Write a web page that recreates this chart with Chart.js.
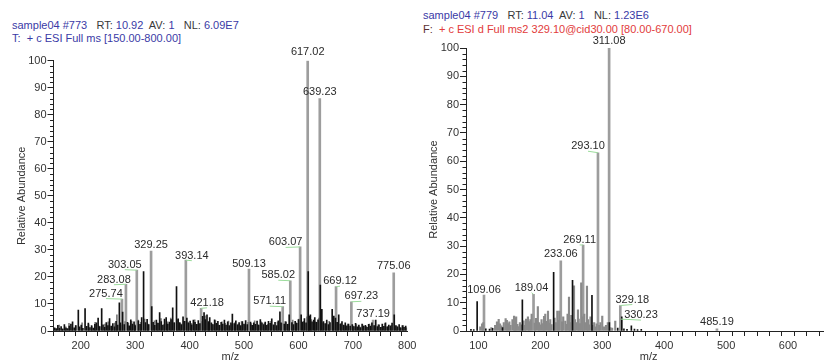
<!DOCTYPE html>
<html>
<head>
<meta charset="utf-8">
<script src="https://cdn.jsdelivr.net/npm/chart.js@4.4.1/dist/chart.umd.min.js"></script>
<style>
  body { margin: 0; width: 824px; height: 364px; overflow: hidden; background: #fff; position: relative;
         font-family: "Liberation Sans", Arial, sans-serif; }
  .hdr { position: absolute; font-size: 11px; white-space: pre; }
  .b { color: #3a3aa6; }
  .k { color: #3a3a3a; }
  .r { color: #e23b3b; }
  canvas { position: absolute; top: 0; }
</style>
</head>
<body>
<div class="hdr" style="left:12px; top:19px; line-height:13.3px"><span class="b">sample04 #773</span>   <span class="k">RT:</span> <span class="b">10.92</span>  <span class="k">AV:</span> <span class="b">1</span>   <span class="k">NL:</span> <span class="b">6.09E7</span>
<span class="b">T:  + c ESI Full ms [150.00-800.00]</span></div>
<div class="hdr" style="left:423px; top:8px; line-height:14.3px"><span class="b">sample04 #779</span>   <span class="k">RT:</span> <span class="b">11.04</span>  <span class="k">AV:</span> <span class="b">1</span>   <span class="k">NL:</span> <span class="b">1.23E6</span>
<span style="color:#5a3030">F:</span> <span class="r"> + c ESI d Full ms2 329.10@cid30.00 [80.00-670.00]</span></div>

<canvas id="fullMs" width="430" height="364" style="left:0"></canvas>
<canvas id="ms2" width="420" height="364" style="left:412px"></canvas>

<script>
// ---- full scan ms (150-800) ----
const fullPeakMz    = [617.02, 639.23, 603.07, 329.25, 393.14, 509.13, 303.05, 775.06, 585.02, 283.08, 669.12, 275.74, 697.23, 571.11, 421.18, 737.19];
const fullPeakAbund = [100,    86,     31.1,   29.6,   26.2,   22.9,   22.5,   21.5,   18.6,   17.3,   16.4,   11.8,   10.8,   9.0,    8.4,    4.0];

const fullNoiseMz = [
  152, 155, 158, 161, 164, 167, 170, 173, 176, 179, 182, 185, 188, 191, 195.6, 198, 201, 204, 208, 211,
  214, 217, 220, 223, 226, 229, 232, 235, 238.5, 241, 244, 247, 250, 253, 256, 259, 262, 265, 268, 271,
  273, 277, 280, 286, 289, 292, 295, 298, 300, 306, 309, 312, 315.5, 319, 322, 325, 330.5, 333, 336, 339,
  342, 345, 348, 351, 354, 357, 360, 363, 366, 369, 372, 376, 379, 382, 385, 388, 391, 395, 398, 401,
  404, 407, 410, 413, 416, 419, 424, 426.6, 429, 432, 435, 437, 440, 443, 446, 449, 452, 455, 458, 461,
  464, 467, 470, 473, 476, 478.6, 482, 485, 488, 491, 494, 497, 500, 503, 506, 512, 515, 518, 521, 524,
  527, 530, 533, 536, 539, 542, 545, 548, 551, 554, 557, 560, 563, 566, 568, 574, 577, 580, 583, 588,
  591, 594, 597, 600, 605, 608, 611, 614, 618, 620, 622, 625, 628, 630, 633, 636, 640.2, 643, 646, 649,
  652, 655, 658, 662, 665, 668, 671, 674, 677, 680, 683, 686, 689, 692, 695, 699, 702, 705, 708, 711,
  714, 717, 720, 723, 726, 729, 732, 735, 739, 742, 745, 748, 751, 754, 757, 760, 763, 766, 769, 772,
  776, 779, 782, 785, 788, 791, 794, 797
];
const fullNoiseAbund = [
  1.2, 0.8, 2.1, 1.0, 1.6, 0.7, 2.4, 1.1, 0.9, 1.8, 2.6, 3.4, 1.2, 2.0, 7.7, 1.5, 2.2, 1.0, 8.3, 1.7,
  2.9, 1.3, 2.0, 1.1, 2.5, 3.0, 4.8, 1.6, 8.3, 2.3, 1.4, 3.1, 2.0, 4.6, 1.8, 2.7, 1.5, 3.6, 2.2, 10.4,
  3.0, 7.0, 2.4, 3.2, 1.9, 4.1, 2.6, 3.4, 2.0, 3.8, 2.5, 5.0, 22.0, 3.1, 4.3, 2.4, 9.0, 3.2, 2.1, 4.0,
  2.8, 6.8, 3.5, 2.2, 4.4, 5.0, 2.6, 3.3, 4.2, 8.6, 3.0, 16.4, 4.5, 3.1, 2.4, 5.2, 3.6, 4.8, 2.9, 3.7,
  2.3, 4.0, 3.2, 2.5, 3.9, 2.7, 5.4, 6.8, 4.2, 6.0, 3.5, 5.0, 3.0, 2.4, 4.1, 2.8, 3.6, 2.1, 3.2, 2.6,
  4.0, 2.2, 3.4, 2.0, 3.0, 6.3, 2.7, 3.8, 2.3, 3.1, 2.0, 3.5, 2.6, 3.9, 2.4, 3.3, 2.1, 3.0, 2.5, 3.7,
  2.2, 4.2, 3.0, 2.4, 3.3, 2.1, 3.6, 2.8, 4.5, 2.3, 3.2, 2.0, 3.8, 7.1, 3.0, 2.6, 3.4, 2.5, 6.0, 3.1,
  2.4, 3.6, 2.8, 4.2, 6.0, 3.3, 4.6, 3.0, 22.0, 5.5, 6.0, 3.4, 4.0, 5.0, 3.2, 4.1, 17.0, 8.0, 3.5, 2.7,
  4.0, 2.4, 3.1, 8.0, 5.5, 4.8, 3.2, 6.0, 2.6, 3.5, 2.2, 3.0, 1.9, 2.6, 1.8, 2.4, 1.6, 2.8, 1.5, 2.2,
  1.3, 2.6, 1.7, 2.1, 1.4, 2.5, 1.8, 3.0, 2.0, 4.0, 1.6, 2.3, 1.4, 2.6, 1.7, 3.0, 1.5, 2.2, 1.8, 2.9,
  6.0, 2.0, 1.5, 2.4, 1.2, 2.0, 1.4, 1.8
];
// lighter background lines between the dark ones
const fullGrayMz = [
  154.5, 160.5, 166.5, 172.5, 178.5, 184.5, 190.5, 202.5, 214.5, 220.5, 226.5, 233.5, 244.5, 250.5, 256.5, 262.5,
  266.5, 274.5, 281.5, 287.5, 293.5, 299.5, 305.5, 310.5, 317.5, 323.5, 335.5, 341.5, 347.5, 353.5, 359.5, 365.5,
  371.5, 377.5, 383.5, 389.5, 397.5, 403.5, 409.5, 415.5, 422.5, 428.5, 434.5, 441.5, 447.5, 453.5, 459.5, 465.5,
  471.5, 477.5, 483.5, 489.5, 495.5, 501.5, 507.5, 513.5, 519.5, 525.5, 531.5, 537.5, 543.5, 549.5, 555.5, 561.5,
  569.5, 575.5, 581.5, 589.5, 595.5, 601.5, 609.5, 615.5, 623.5, 631.5, 637.5, 644.5, 650.5, 656.5, 663.5, 672.5,
  678.5, 684.5, 690.5, 700.5, 706.5, 712.5, 718.5, 724.5, 730.5, 740.5, 746.5, 752.5, 758.5, 764.5, 770.5, 780.5,
  786.5, 792.5, 798.5
];
const fullGrayAbund = [
  1.0, 2.2, 0.8, 1.5, 2.8, 1.2, 2.0, 3.0, 2.4, 1.6, 3.2, 1.8, 2.6, 3.4, 1.5, 2.9,
  6.0, 2.2, 3.5, 2.8, 3.6, 2.4, 4.0, 3.2, 4.4, 2.6, 3.8, 3.0, 4.6, 2.5, 3.4, 4.8,
  3.1, 4.2, 2.7, 3.6, 3.3, 2.8, 4.1, 2.4, 3.5, 5.6, 3.0, 2.6, 3.9, 2.2, 3.4, 2.8,
  3.7, 2.4, 3.1, 2.6, 3.5, 2.2, 3.2, 2.7, 3.8, 2.3, 3.4, 2.9, 2.5, 3.6, 2.1, 3.3,
  2.8, 3.5, 2.6, 4.0, 3.1, 4.4, 3.6, 5.2, 4.2, 3.4, 4.8, 3.0, 2.6, 3.6, 4.4, 3.2,
  2.8, 2.0, 2.6, 1.8, 2.4, 1.5, 2.2, 1.7, 2.6, 1.9, 2.3, 1.4, 2.7, 1.6, 2.1, 1.8,
  1.4, 2.0, 1.2
];

// ---- ms2 of 329.10 (80-670) ----
const ms2PeakMz    = [311.08, 293.10, 269.11, 233.06, 189.04, 109.06, 329.18, 330.23, 485.19];
const ms2PeakAbund = [100,    63,     30.4,   24.8,   13.0,   12.7,   9.0,    4.2,    0.8];

const ms2GrayMz = [
  103, 106, 108, 121, 127, 130, 132.8, 135, 137, 141, 144, 146, 148, 150, 152, 155, 157.6, 159, 161, 163,
  165, 167, 169, 173, 175, 177, 180, 182, 184, 186, 191, 193, 196, 198, 200, 202, 204, 206, 208, 210,
  212.4, 214, 216, 218, 223, 225, 227.5, 229, 230.6, 235, 237, 240.3, 242, 244, 246.3, 248, 250, 254.4, 256, 258,
  260.8, 262, 264, 266, 268, 271, 273, 275.3, 277, 279, 281, 285, 287, 289, 291, 295, 297, 300, 303, 306,
  309, 313, 316, 321
];
const ms2GrayAbund = [
  1.5, 2.5, 3.0, 1.2, 2.0, 3.2, 4.1, 2.5, 1.8, 3.0, 4.4, 3.8, 2.6, 3.2, 2.0, 4.0, 5.3, 4.6, 5.0, 2.4,
  1.6, 3.0, 2.2, 3.6, 2.0, 4.2, 5.0, 3.3, 4.0, 6.0, 2.8, 4.5, 8.6, 3.0, 2.2, 4.0, 2.6, 5.2, 6.0, 3.4,
  7.0, 2.8, 4.0, 2.3, 4.6, 3.0, 7.0, 3.8, 7.0, 3.2, 5.0, 3.5, 2.4, 6.0, 12.0, 3.0, 5.5, 16.0, 4.0, 3.0,
  7.5, 4.2, 2.6, 17.0, 5.0, 6.0, 3.0, 15.9, 4.0, 2.2, 5.0, 2.0, 3.0, 1.5, 2.5, 2.0, 3.0, 5.3, 1.5, 2.0,
  3.0, 1.2, 1.0, 3.5
];
const ms2DarkMz    = [88, 92.5, 98, 112, 118, 123, 139, 171, 221.5, 252, 283.4, 311.5, 325, 331.5, 335, 340, 347, 352, 357, 363];
const ms2DarkAbund = [0.6, 0.5, 10.4, 0.8, 0.7, 0.9, 1.2, 11.0, 20.7, 17.9, 12.6, 3.0, 1.0, 5.0, 0.8, 0.6, 1.8, 0.7, 0.5, 0.6];

// label shifts [dx, dy] in px for crowded peaks (drawn with a leader line)
const fullNudge = {
  '617.02': [0, -2], '303.05': [-12, 1], '283.08': [-12, 2], '275.74': [-16, 1], '393.14': [6, 2], '421.18': [6, 1],
  '509.13': [0, 1], '571.11': [-13, 1], '585.02': [-12, 1], '603.07': [-14.5, 2], '669.12': [4, 1], '697.23': [10, 1]
};
const ms2Nudge = {
  '311.08': [0, -1], '293.10': [-10, 0], '269.11': [-3.5, 1.5], '189.04': [-2, 0], '109.06': [0, 1.5],
  '329.18': [12, 0.5], '330.23': [20, 2.5]
};

Chart.defaults.font.family = '"Liberation Sans", Arial, sans-serif';
Chart.defaults.font.size = 11;
Chart.defaults.color = '#333';

function toPoints(xs, ys) {
  return xs.map((x, i) => ({ x: x, y: ys[i] }));
}

// peak labels with green leader lines, plus the short minor ticks on the y axis
function spectrumDecor(mzs, abunds, nudge) {
  return {
    id: 'spectrumDecor',
    afterDatasetsDraw(chart) {
      const { ctx, scales: { x, y } } = chart;
      ctx.save();
      ctx.font = '11px "Liberation Sans", Arial, sans-serif';
      ctx.textAlign = 'center';
      ctx.textBaseline = 'middle';
      mzs.forEach((mz, i) => {
        const text = mz.toFixed(2);
        const px = x.getPixelForValue(mz);
        const py = y.getPixelForValue(abunds[i]);
        const n = nudge[text] || [0, 0];
        const tx = px + n[0], ty = py - 6.5 + n[1];
        if (n[0] !== 0) {
          ctx.strokeStyle = '#9cdc9c';
          ctx.lineWidth = 1;
          ctx.beginPath();
          ctx.moveTo(tx, ty + 5);
          ctx.lineTo(px, py);
          ctx.stroke();
        }
        ctx.fillStyle = '#2a2a2a';
        ctx.fillText(text, tx, ty);
      });
      ctx.strokeStyle = '#222';
      ctx.lineWidth = 1;
      ctx.beginPath();
      for (let v = 2; v < 100; v += 2) {
        if (v % 10 === 0) continue;
        const yy = Math.round(y.getPixelForValue(v)) + 0.5;
        ctx.moveTo(x.left - 3.5, yy);
        ctx.lineTo(x.left, yy);
      }
      ctx.stroke();
      ctx.restore();
    }
  };
}

function drawSpectrum(id, cfg) {
  const xTicks = [];
  for (let v = cfg.firstTick; v <= cfg.max; v += 20) xTicks.push({ value: v });
  return new Chart(document.getElementById(id), {
    type: 'bar',
    data: { datasets: cfg.datasets },
    options: {
      responsive: false,
      animation: false,
      events: [],
      layout: { padding: { top: cfg.top, right: cfg.right, left: 0, bottom: 0 } },
      datasets: { bar: { grouped: false } },
      plugins: { legend: { display: false }, tooltip: { enabled: false } },
      scales: {
        x: {
          type: 'linear',
          min: cfg.min,
          max: cfg.max,
          offset: false,
          afterBuildTicks: s => { s.ticks = xTicks.slice(); },
          afterFit: s => { s.height = 33; s.paddingLeft = 0; s.paddingRight = 0; },
          ticks: { autoSkip: false, maxRotation: 0, padding: 3, callback: v => (v % 100 === 0 ? v : '') },
          grid: { drawOnChartArea: false, tickLength: 5, tickColor: '#222' },
          border: { color: '#222' },
          title: { display: true, text: 'm/z', padding: 0, color: '#333' }
        },
        y: {
          min: 0,
          max: 100,
          ticks: { stepSize: 10, padding: 1 },
          afterFit: s => { s.width = cfg.left; s.paddingTop = 0; s.paddingBottom = 0; },
          grid: { drawOnChartArea: false, tickLength: 6, tickColor: '#222' },
          border: { color: '#222' },
          title: { display: true, text: 'Relative Abundance', padding: { top: 15, bottom: 0 }, color: '#333' }
        }
      }
    },
    plugins: [spectrumDecor(cfg.peakMz, cfg.peakAbund, cfg.nudge)]
  });
}

drawSpectrum('fullMs', {
  min: 150, max: 800, firstTick: 160, top: 60.7, right: 22.7, left: 53.5,
  peakMz: fullPeakMz, peakAbund: fullPeakAbund, nudge: fullNudge,
  datasets: [
    { data: toPoints(fullPeakMz, fullPeakAbund), backgroundColor: '#9d9d9d', barThickness: 2, order: 3 },
    { data: toPoints(fullGrayMz, fullGrayAbund), backgroundColor: '#7a7a7a', barThickness: 1, order: 2 },
    { data: toPoints(fullNoiseMz, fullNoiseAbund), backgroundColor: '#111', barThickness: 1, order: 1 }
  ]
});

drawSpectrum('ms2', {
  min: 80, max: 670, firstTick: 80, top: 48, right: 0.6, left: 54,
  peakMz: ms2PeakMz, peakAbund: ms2PeakAbund, nudge: ms2Nudge,
  datasets: [
    { data: toPoints(ms2PeakMz, ms2PeakAbund), backgroundColor: '#9d9d9d', barThickness: 2, order: 3 },
    { data: toPoints(ms2GrayMz, ms2GrayAbund), backgroundColor: '#8a8a8a', barThickness: 1.5, order: 2 },
    { data: toPoints(ms2DarkMz, ms2DarkAbund), backgroundColor: '#111', barThickness: 1, order: 1 }
  ]
});
</script>
</body>
</html>
